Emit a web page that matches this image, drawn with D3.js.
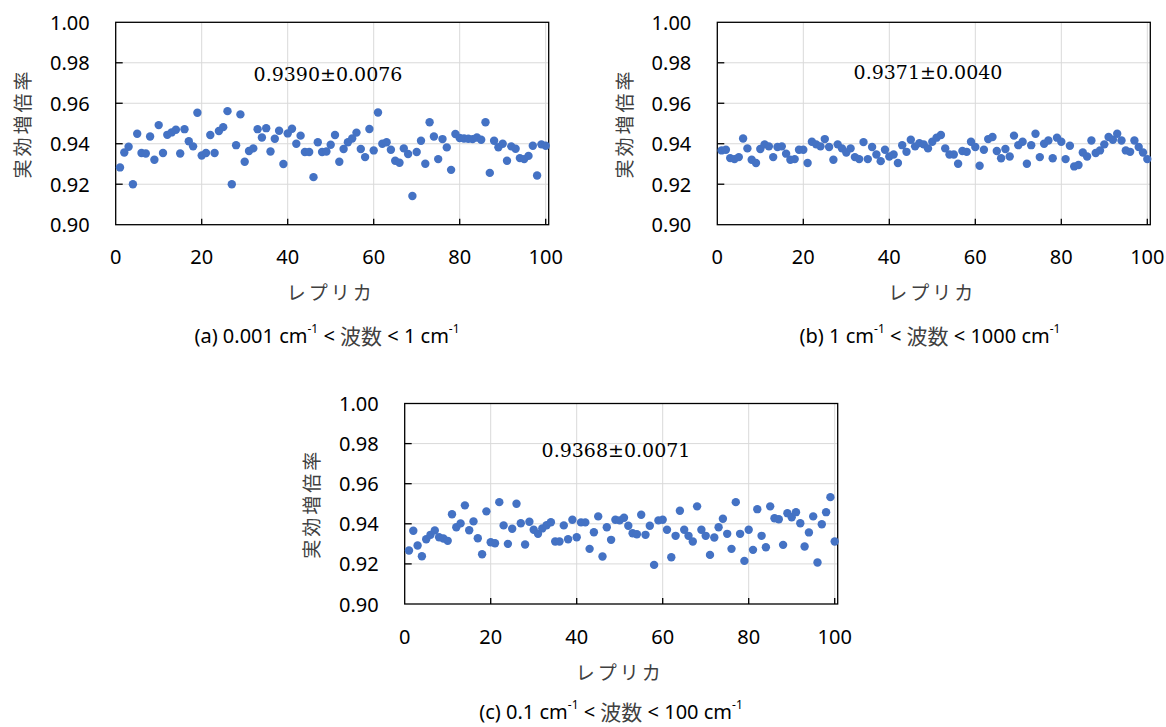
<!DOCTYPE html>
<html>
<head>
<meta charset="utf-8">
<script src="https://cdn.jsdelivr.net/npm/d3@7"></script>
<style>
  body { margin: 0; background: #fff; }
  svg { display: block; }
  .tick-label { font-family: "Noto Sans", "Noto Sans CJK JP", sans-serif; font-size: 20px; fill: #000; }
  .axis-title { font-family: "Noto Sans CJK JP", sans-serif; font-size: 19px; fill: #404040; }
  .caption { font-family: "Noto Sans", "Noto Sans CJK JP", sans-serif; font-size: 20px; fill: #000; }
  .caption .cjk { font-family: "Noto Sans CJK JP", sans-serif; font-size: 21px; fill: #404040; }
  .stat { font-family: "DejaVu Serif", serif; font-size: 19px; fill: #000; }
</style>
</head>
<body>
<svg id="chart" width="1166" height="727"></svg>
<script>
// effective multiplication factor for each replica
var valuesA = [
  0.9283, 0.9357, 0.9385, 0.9200, 0.9449, 0.9354, 0.9352, 0.9436, 0.9321, 0.9492,
  0.9354, 0.9444, 0.9456, 0.9469, 0.9352, 0.9472, 0.9412, 0.9387, 0.9553, 0.9342,
  0.9354, 0.9443, 0.9354, 0.9463, 0.9482, 0.9561, 0.9200, 0.9393, 0.9545, 0.9311,
  0.9364, 0.9377, 0.9472, 0.9431, 0.9477, 0.9362, 0.9425, 0.9464, 0.9300, 0.9451,
  0.9474, 0.9400, 0.9440, 0.9359, 0.9359, 0.9235, 0.9407, 0.9359, 0.9362, 0.9395,
  0.9443, 0.9311, 0.9374, 0.9407, 0.9426, 0.9455, 0.9374, 0.9334, 0.9473, 0.9367,
  0.9554, 0.9400, 0.9407, 0.9370, 0.9316, 0.9306, 0.9377, 0.9349, 0.9142, 0.9359,
  0.9415, 0.9301, 0.9506, 0.9436, 0.9324, 0.9423, 0.9382, 0.9271, 0.9448, 0.9428,
  0.9426, 0.9425, 0.9423, 0.9431, 0.9420, 0.9506, 0.9256, 0.9415, 0.9383, 0.9400,
  0.9316, 0.9387, 0.9375, 0.9329, 0.9324, 0.9340, 0.9390, 0.9243, 0.9397, 0.9390
];
var valuesB = [
  0.9367, 0.9370, 0.9329, 0.9324, 0.9334, 0.9426, 0.9377, 0.9321, 0.9305, 0.9374,
  0.9397, 0.9387, 0.9334, 0.9384, 0.9387, 0.9351, 0.9321, 0.9324, 0.9370, 0.9370,
  0.9305, 0.9410, 0.9397, 0.9387, 0.9423, 0.9384, 0.9321, 0.9397, 0.9377, 0.9357,
  0.9377, 0.9334, 0.9324, 0.9408, 0.9324, 0.9384, 0.9347, 0.9314, 0.9370, 0.9337,
  0.9347, 0.9305, 0.9393, 0.9360, 0.9420, 0.9387, 0.9403, 0.9397, 0.9377, 0.9410,
  0.9430, 0.9443, 0.9377, 0.9347, 0.9347, 0.9301, 0.9364, 0.9360, 0.9410, 0.9384,
  0.9291, 0.9370, 0.9423, 0.9433, 0.9364, 0.9328, 0.9374, 0.9337, 0.9440, 0.9393,
  0.9410, 0.9301, 0.9393, 0.9449, 0.9334, 0.9400, 0.9416, 0.9328, 0.9430, 0.9410,
  0.9324, 0.9390, 0.9288, 0.9295, 0.9357, 0.9337, 0.9416, 0.9354, 0.9367, 0.9397,
  0.9433, 0.9420, 0.9449, 0.9416, 0.9367, 0.9360, 0.9416, 0.9384, 0.9357, 0.9324
];
var valuesC = [
  0.9267, 0.9365, 0.9292, 0.9238, 0.9323, 0.9345, 0.9367, 0.9333, 0.9327, 0.9315,
  0.9448, 0.9383, 0.9402, 0.9492, 0.9368, 0.9412, 0.9328, 0.9248, 0.9462, 0.9308,
  0.9303, 0.9508, 0.9392, 0.9300, 0.9375, 0.9500, 0.9403, 0.9297, 0.9410, 0.9370,
  0.9350, 0.9377, 0.9393, 0.9408, 0.9312, 0.9312, 0.9392, 0.9323, 0.9420, 0.9333,
  0.9407, 0.9407, 0.9275, 0.9358, 0.9437, 0.9237, 0.9383, 0.9320, 0.9420, 0.9417,
  0.9430, 0.9390, 0.9353, 0.9348, 0.9445, 0.9345, 0.9390, 0.9195, 0.9417, 0.9420,
  0.9370, 0.9233, 0.9340, 0.9465, 0.9370, 0.9340, 0.9312, 0.9487, 0.9370, 0.9340,
  0.9245, 0.9332, 0.9383, 0.9425, 0.9350, 0.9275, 0.9508, 0.9350, 0.9215, 0.9370,
  0.9270, 0.9473, 0.9340, 0.9283, 0.9487, 0.9428, 0.9423, 0.9295, 0.9453, 0.9433,
  0.9458, 0.9403, 0.9287, 0.9357, 0.9437, 0.9207, 0.9398, 0.9458, 0.9533, 0.9312
];

var xTicks = [0, 20, 40, 60, 80, 100];
var yTicks = [0.90, 0.92, 0.94, 0.96, 0.98, 1.00];
var stats = ["0.9390\u00b10.0076", "0.9371\u00b10.0040", "0.9368\u00b10.0071"];
// caption pieces: plain, superscript, plain, kanji, plain, superscript
var captions = [
  ["(a) 0.001 cm", "-1", " < ", "波数", " < 1 cm", "-1"],
  ["(b) 1 cm", "-1", " < ", "波数", " < 1000 cm", "-1"],
  ["(c) 0.1 cm", "-1", " < ", "波数", " < 100 cm", "-1"]
];
var xTitle = "レプリカ";
var yTitle = "実効増倍率";

// where each panel sits on the page
var panels = [
  { values: valuesA, left: 115.7, top: 22.3, bottom: 224.7, statX: 328, statY: 74, capX: 327, capY: 335 },
  { values: valuesB, left: 717.3, top: 22.3, bottom: 224.7, statX: 928, statY: 72, capX: 930, capY: 335 },
  { values: valuesC, left: 404.7, top: 403.5, bottom: 604, statX: 616, statY: 450, capX: 611, capY: 711 }
];

var svg = d3.select("#chart");

panels.forEach(function(p, i) {
  var x = d3.scaleLinear().domain([0, 100]).range([p.left, p.left + 430]);
  var y = d3.scaleLinear().domain([0.90, 1.00]).range([p.bottom, p.top]);
  var right = p.left + 433;
  var g = svg.append("g");

  // gridlines
  g.selectAll(".vgrid").data(xTicks.slice(1)).enter().append("line")
      .attr("x1", function(d) { return x(d); })
      .attr("x2", function(d) { return x(d); })
      .attr("y1", p.top).attr("y2", p.bottom)
      .attr("stroke", "#d9d9d9").attr("stroke-width", 1);
  g.selectAll(".hgrid").data(yTicks.slice(1, -1)).enter().append("line")
      .attr("x1", p.left).attr("x2", right)
      .attr("y1", function(d) { return y(d); })
      .attr("y2", function(d) { return y(d); })
      .attr("stroke", "#d9d9d9").attr("stroke-width", 1);

  // frame
  g.append("rect")
      .attr("x", p.left).attr("y", p.top)
      .attr("width", right - p.left).attr("height", p.bottom - p.top)
      .attr("fill", "none").attr("stroke", "#000").attr("stroke-width", 1.3);

  // inner ticks
  g.selectAll(".xt").data(xTicks.slice(1)).enter().append("line")
      .attr("x1", function(d) { return x(d); })
      .attr("x2", function(d) { return x(d); })
      .attr("y1", p.bottom).attr("y2", p.bottom - 6)
      .attr("stroke", "#000").attr("stroke-width", 1.3);
  g.selectAll(".yt").data(yTicks.slice(1, -1)).enter().append("line")
      .attr("x1", p.left).attr("x2", p.left + 7)
      .attr("y1", function(d) { return y(d); })
      .attr("y2", function(d) { return y(d); })
      .attr("stroke", "#000").attr("stroke-width", 1.3);

  // tick labels
  g.selectAll(".xl").data(xTicks).enter().append("text")
      .attr("class", "tick-label")
      .attr("x", function(d) { return x(d); })
      .attr("y", p.bottom + 32)
      .attr("text-anchor", "middle")
      .attr("dominant-baseline", "central")
      .text(function(d) { return d; });
  g.selectAll(".yl").data(yTicks).enter().append("text")
      .attr("class", "tick-label")
      .attr("x", p.left - 26)
      .attr("y", function(d) { return y(d); })
      .attr("text-anchor", "end")
      .attr("dominant-baseline", "central")
      .text(function(d) { return d3.format(".2f")(d); });

  // axis titles
  g.append("text")
      .attr("class", "axis-title")
      .attr("x", x(50)).attr("y", p.bottom + 67)
      .attr("text-anchor", "middle")
      .attr("dominant-baseline", "central")
      .attr("letter-spacing", "3px")
      .text(xTitle);
  g.append("text")
      .attr("class", "axis-title")
      .attr("transform", "translate(" + (p.left - 94) + "," + ((p.top + p.bottom) / 2) + ") rotate(-90)")
      .attr("text-anchor", "middle")
      .attr("dominant-baseline", "central")
      .attr("letter-spacing", "3px")
      .text(yTitle);

  // points
  g.selectAll(".dot").data(p.values).enter().append("circle")
      .attr("cx", function(d, j) { return x(j + 1); })
      .attr("cy", function(d) { return y(d); })
      .attr("r", 4.2)
      .attr("fill", "#4472c4");

  // mean ± sd annotation
  g.append("text")
      .attr("class", "stat")
      .attr("x", p.statX).attr("y", p.statY)
      .attr("text-anchor", "middle")
      .attr("dominant-baseline", "central")
      .text(stats[i]);

  // caption with superscripts
  var cap = g.append("text")
      .attr("class", "caption")
      .attr("x", p.capX).attr("y", p.capY)
      .attr("text-anchor", "middle")
      .attr("dominant-baseline", "central");
  var raised = false;
  captions[i].forEach(function(part, k) {
    var t = cap.append("tspan").text(part);
    if (k === 1 || k === 5) {
      t.attr("font-size", "12px").attr("dy", "-7");
      raised = true;
    } else {
      if (raised) { t.attr("dy", "7"); raised = false; }
      if (k === 3) { t.attr("class", "cjk"); }
    }
  });
});
</script>
</body>
</html>
